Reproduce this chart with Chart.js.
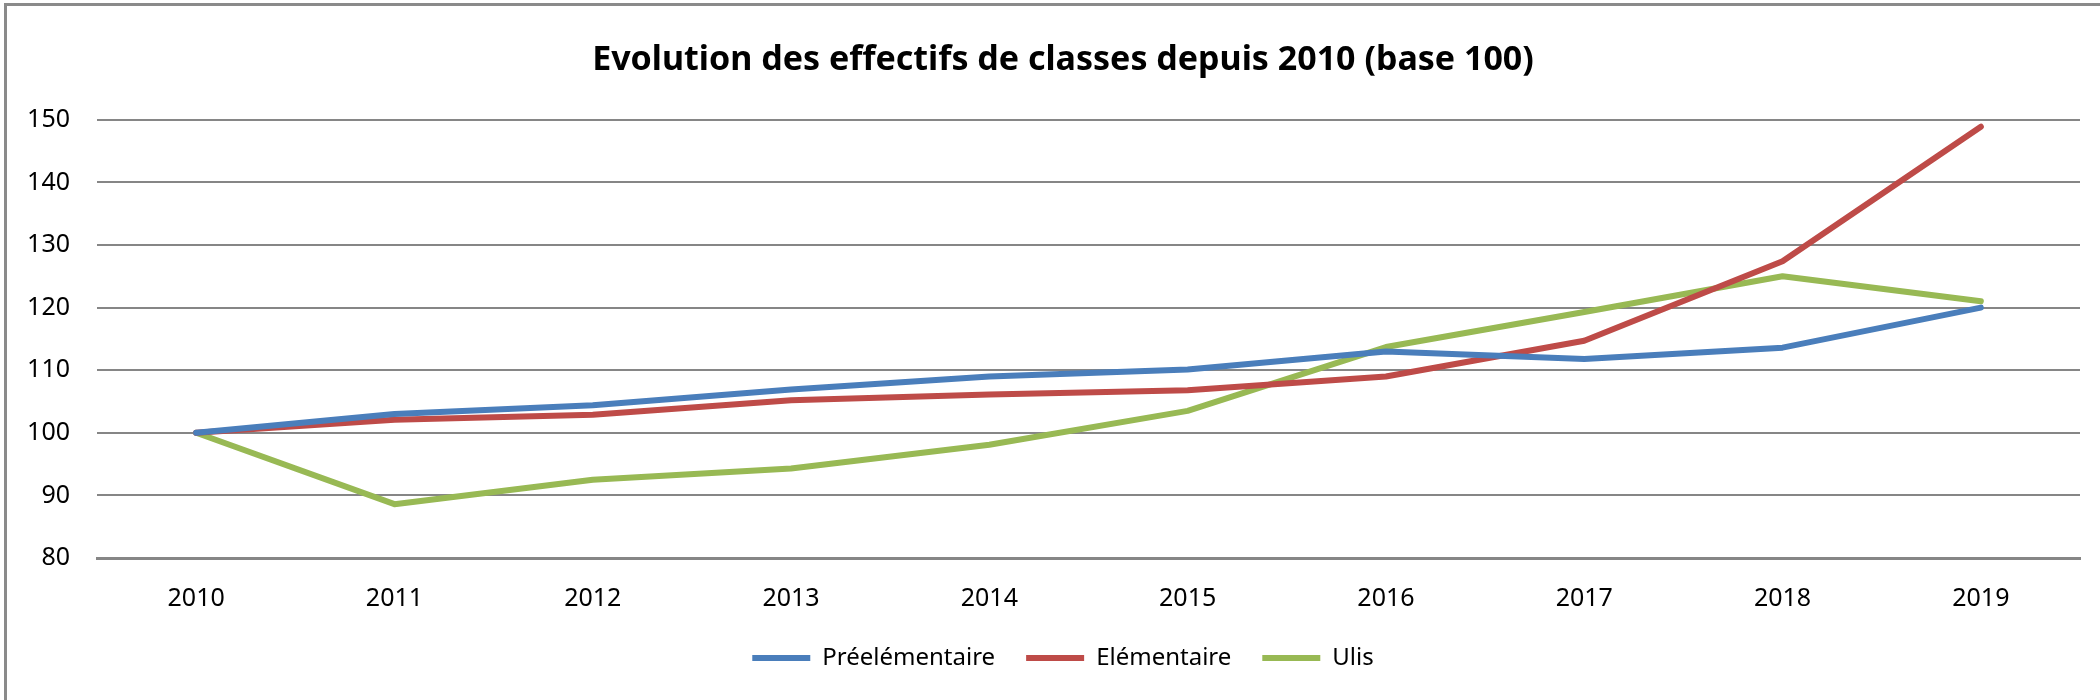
<!DOCTYPE html>
<html>
<head>
<meta charset="utf-8">
<script src="https://cdn.jsdelivr.net/npm/chart.js@4"></script>
<style>
  html, body { margin: 0; padding: 0; background: #fff; }
  #wrap { width: 2100px; height: 700px; }
</style>
</head>
<body>
<div id="wrap"><canvas id="myChart" width="2100" height="700"></canvas></div>
<script>
// values (base 100 in 2010)
var years = ['2010', '2011', '2012', '2013', '2014', '2015', '2016', '2017', '2018', '2019'];
var preelementaire = [100, 103.0, 104.4, 106.9, 109.0, 110.1, 113.0, 111.8, 113.6, 120.0];
var elementaire = [100, 102.1, 102.9, 105.2, 106.1, 106.8, 109.0, 114.7, 127.4, 148.9];
var ulis = [100, 88.6, 92.5, 94.3, 98.1, 103.5, 113.7, 119.3, 125.0, 121.0];
var yMin = 80, yMax = 150, yStep = 10;

var FONT = "'Noto Sans', sans-serif";

// grey frame round the chart, like the spreadsheet export
var framePlugin = {
  id: 'frame',
  afterLayout: function(chart) {
    // title and legend are centred a bit right of the canvas middle in the original
    if (chart.titleBlock) chart.titleBlock.left += 46;
    if (chart.legend) chart.legend.left += 46;
  },
  beforeDraw: function(chart) {
    var c = chart.ctx;
    c.save();
    c.fillStyle = '#ffffff';
    c.fillRect(0, 0, chart.width, chart.height);
    c.strokeStyle = '#8a8a8a';
    c.lineWidth = 3;
    c.beginPath();
    c.moveTo(5.5, chart.height);
    c.lineTo(5.5, 4.5);
    c.lineTo(chart.width, 4.5);
    c.stroke();
    c.restore();
  }
};

function line(label, data, color) {
  return {
    label: label,
    data: data,
    borderColor: color,
    backgroundColor: color,
    borderWidth: 6,
    borderCapStyle: 'round',
    borderJoinStyle: 'round',
    pointRadius: 0,
    pointHoverRadius: 0,
    fill: false,
    tension: 0
  };
}

var ctx = document.getElementById('myChart').getContext('2d');
var myChart = new Chart(ctx, {
  type: 'line',
  data: {
    labels: years,
    datasets: [
      line('Préelémentaire', preelementaire, '#4a7ebb'),
      line('Elémentaire', elementaire, '#be4b48'),
      line('Ulis', ulis, '#98b954')
    ]
  },
  plugins: [framePlugin],
  options: {
    responsive: false,
    animation: false,
    devicePixelRatio: 1,
    layout: { padding: { left: 0, right: 20, top: 0, bottom: 20 } },
    plugins: {
      title: {
        display: true,
        text: 'Evolution des effectifs de classes depuis 2010 (base 100)',
        color: '#000',
        font: { family: FONT, size: 34, weight: 'bold' },
        padding: { top: 40, bottom: 39 }
      },
      legend: {
        position: 'bottom',
        labels: {
          usePointStyle: true,
          pointStyle: 'line',
          pointStyleWidth: 58,
          color: '#000',
          padding: 31,
          font: { family: FONT, size: 24 }
        }
      },
      tooltip: { enabled: false }
    },
    scales: {
      x: {
        offset: true,
        grid: { display: false, drawTicks: false },
        border: { display: true, color: '#868686', width: 3 },
        ticks: {
          color: '#000',
          font: { family: FONT, size: 25 },
          padding: 26,
          maxRotation: 0,
          autoSkip: false
        },
        afterFit: function(scale) { scale.height = 57; }
      },
      y: {
        min: yMin,
        max: yMax,
        grid: { color: '#868686', lineWidth: 2, drawTicks: false },
        border: { display: false },
        ticks: {
          stepSize: yStep,
          color: '#000',
          font: { family: FONT, size: 25 },
          padding: 27
        },
        afterFit: function(scale) { scale.width = 97; }
      }
    }
  }
});
</script>
</body>
</html>
